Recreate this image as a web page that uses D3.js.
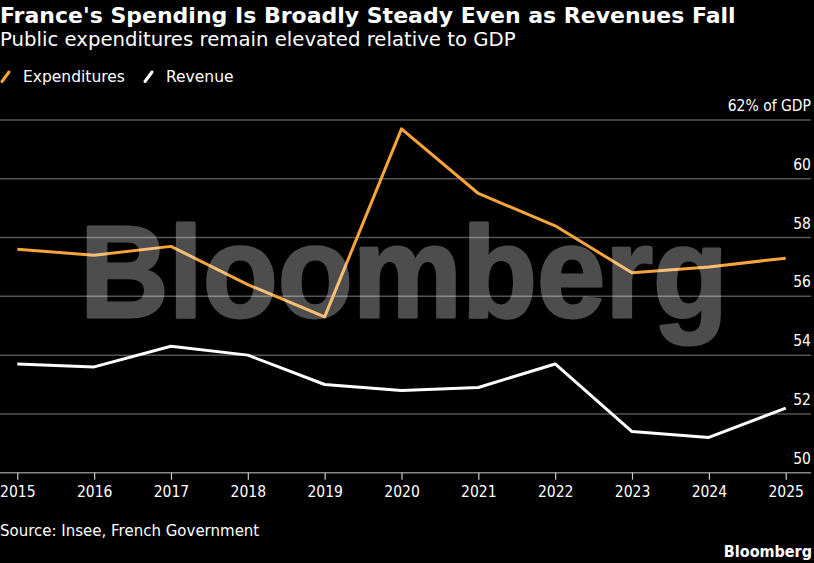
<!DOCTYPE html>
<html>
<head>
<meta charset="utf-8">
<script src="https://cdn.jsdelivr.net/npm/d3@7"></script>
<style>
  html, body { margin: 0; padding: 0; background: #000; }
  svg { display: block; }
</style>
</head>
<body>
<script>
var years = [2015, 2016, 2017, 2018, 2019, 2020, 2021, 2022, 2023, 2024, 2025];
var expenditures = [57.6, 57.4, 57.7, 56.4, 55.3, 61.7, 59.5, 58.4, 56.8, 57.0, 57.3];
var revenue = [53.7, 53.6, 54.3, 54.0, 53.0, 52.8, 52.9, 53.7, 51.4, 51.2, 52.2];
var yTicks = [50, 52, 54, 56, 58, 60, 62];
var seriesNames = ["Expenditures", "Revenue"];

var width = 814;
var height = 563;
var font = "'DejaVu Sans', sans-serif";
var fontCond = "'DejaVu Sans Condensed', 'DejaVu Sans', sans-serif";
var orange = "#f6a53a";

var svg = d3.select("body").append("svg")
    .attr("width", width)
    .attr("height", height)
    .style("background", "#000");

var x = d3.scaleLinear().domain([2015, 2025]).range([17.3, 785.7]);
var y = d3.scaleLinear().domain([50, 62]).range([472.7, 120]);

// title block
svg.append("text")
    .attr("x", 0).attr("y", 23)
    .attr("fill", "#fff")
    .style("font-family", font)
    .style("font-weight", "bold")
    .style("font-size", "22px")
    .text("France's Spending Is Broadly Steady Even as Revenues Fall");

svg.append("text")
    .attr("x", 0).attr("y", 46)
    .attr("fill", "#fff")
    .style("font-family", font)
    .style("font-size", "19.7px")
    .text("Public expenditures remain elevated relative to GDP");

// legend
var legend = svg.append("g");
var legendX = [2, 145];
seriesNames.forEach(function(name, i) {
    var g = legend.append("g").attr("transform", "translate(" + legendX[i] + ",0)");
    g.append("line")
        .attr("x1", 0).attr("y1", 81.5)
        .attr("x2", 7).attr("y2", 72)
        .attr("stroke", i == 0 ? orange : "#fff")
        .attr("stroke-width", 3)
        .attr("stroke-linecap", "round");
    g.append("text")
        .attr("x", 21).attr("y", 82)
        .attr("fill", "#fff")
        .style("font-family", font)
        .style("font-size", "15.5px")
        .text(name);
});

// gridlines + y labels
var yAxis = svg.append("g");
yAxis.selectAll("line.grid")
    .data(yTicks.filter(d => d != 50))
    .join("line")
    .attr("class", "grid")
    .attr("x1", 0).attr("x2", 811)
    .attr("y1", d => y(d)).attr("y2", d => y(d))
    .attr("stroke", "#555")
    .attr("stroke-width", 1.5);

yAxis.selectAll("text")
    .data(yTicks)
    .join("text")
    .attr("x", 811)
    .attr("y", d => y(d) - 9)
    .attr("text-anchor", "end")
    .attr("fill", "#fff")
    .style("font-family", fontCond)
    .style("font-size", "15.5px")
    .text(d => d == 62 ? "62% of GDP" : d);

// x axis
var xAxis = svg.append("g")
    .attr("transform", "translate(0," + y(50) + ")")
    .call(d3.axisBottom(x).tickValues(years).tickFormat(d3.format("d")).tickSize(7).tickPadding(6));
xAxis.select(".domain").remove();
xAxis.insert("line", ":first-child")
    .attr("x1", 0).attr("x2", 811)
    .attr("stroke", "#888").attr("stroke-width", 1.5);
xAxis.selectAll(".tick line").attr("stroke", "#ccc").attr("stroke-width", 1.2);
xAxis.selectAll(".tick text")
    .attr("fill", "#fff")
    .style("font-family", fontCond)
    .style("font-size", "15.5px");

// lines
var line = d3.line()
    .x((d, i) => x(years[i]))
    .y(d => y(d));

svg.append("path")
    .datum(expenditures)
    .attr("fill", "none")
    .attr("stroke", orange)
    .attr("stroke-width", 3)
    .attr("stroke-linejoin", "round")
    .attr("d", line);

svg.append("path")
    .datum(revenue)
    .attr("fill", "none")
    .attr("stroke", "#fff")
    .attr("stroke-width", 3)
    .attr("stroke-linejoin", "round")
    .attr("d", line);

// watermark
svg.append("g")
    .attr("opacity", 0.3)
    .append("text")
    .attr("x", 80).attr("y", 317)
    .attr("fill", "#fff")
    .attr("stroke", "#fff")
    .attr("stroke-width", 3)
    .attr("stroke-linejoin", "round")
    .attr("textLength", 648)
    .attr("lengthAdjust", "spacingAndGlyphs")
    .style("font-family", "'Liberation Sans', Arial, sans-serif")
    .style("font-weight", "bold")
    .style("font-size", "130px")
    .text("Bloomberg");

// footer
svg.append("text")
    .attr("x", 0).attr("y", 536)
    .attr("fill", "#fff")
    .style("font-family", font)
    .style("font-size", "15px")
    .text("Source: Insee, French Government");

svg.append("text")
    .attr("x", 812).attr("y", 557)
    .attr("text-anchor", "end")
    .attr("fill", "#fff")
    .style("font-family", fontCond)
    .style("font-weight", "bold")
    .style("font-size", "16px")
    .text("Bloomberg");
</script>
</body>
</html>
